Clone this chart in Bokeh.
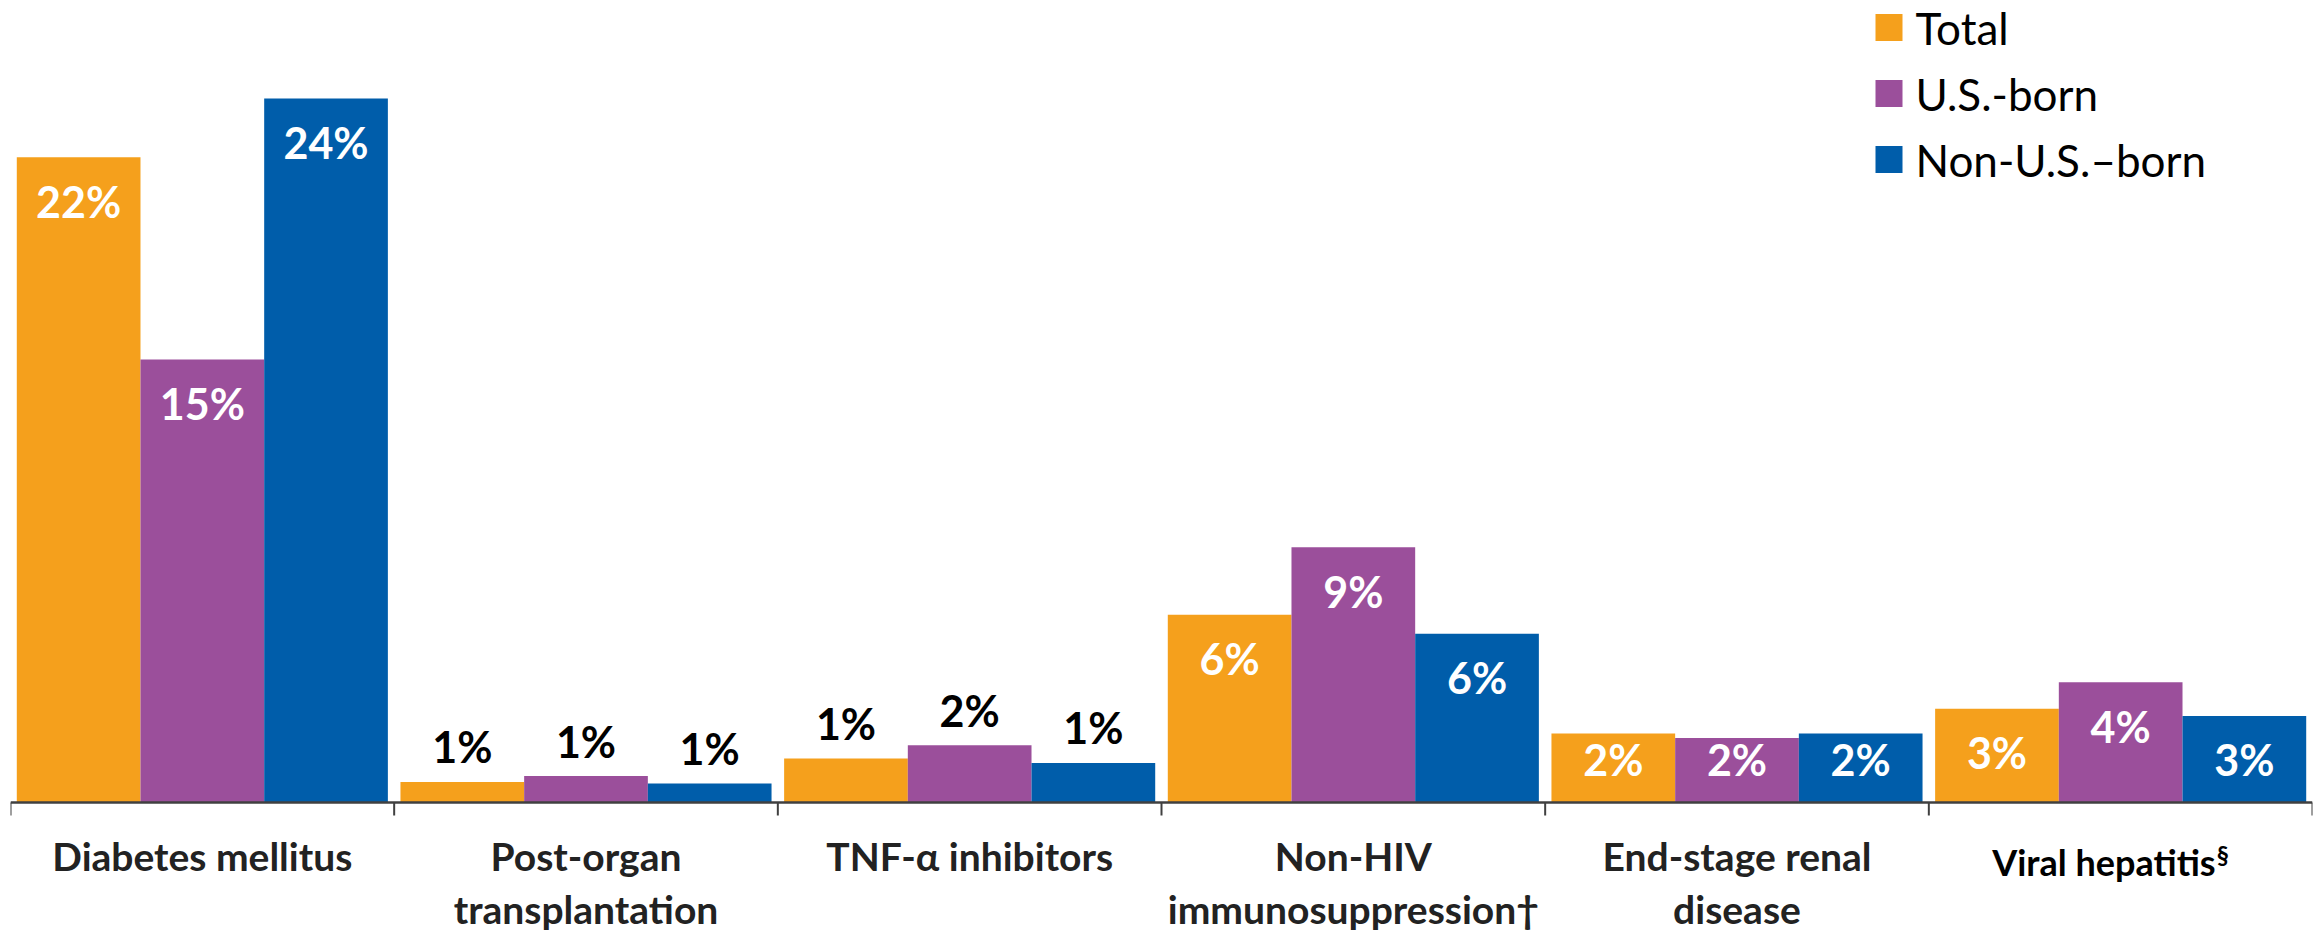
import numpy as np
from bokeh.plotting import figure
from bokeh.models import ColumnDataSource, Range1d
from bokeh.core.properties import value
from bokeh.embed import file_html
from bokeh.resources import INLINE

# ---------------- data ----------------
categories = ["Diabetes mellitus", "Post-organ\ntransplantation", "TNF-\u03b1 inhibitors",
              "Non-HIV\nimmunosuppression\u2020", "End-stage renal\ndisease", "Viral hepatitis\u00a7"]
series_names = ["Total", "U.S.-born", "Non-U.S.\u2013born"]
total = [22.0, 0.7, 1.5, 6.4, 2.35, 3.2]
us_born = [15.1, 0.9, 1.95, 8.7, 2.2, 4.1]
non_us_born = [24.0, 0.65, 1.35, 5.75, 2.35, 2.95]
total_labels = ["22%", "1%", "1%", "6%", "2%", "3%"]
us_born_labels = ["15%", "1%", "2%", "9%", "2%", "4%"]
non_us_born_labels = ["24%", "1%", "1%", "6%", "2%", "3%"]
colors = ["#F5A01C", "#9B4F9B", "#005DAA"]

series_values = [total, us_born, non_us_born]
series_labels = [total_labels, us_born_labels, non_us_born_labels]

# ---------------- layout ----------------
W, H = 2323, 930
FRAME_L, FRAME_R, BASE = 10, 2312, 802
PX_PER_PCT = 29.33
BW = 0.3224
FONT = "Lato"
N = len(categories)

p = figure(width=W, height=H, output_backend="svg", toolbar_location=None,
           x_range=Range1d(0, N),
           y_range=Range1d(-(H - BASE) / PX_PER_PCT, BASE / PX_PER_PCT),
           x_axis_location=None, y_axis_location=None,
           min_border_left=FRAME_L, min_border_right=W - FRAME_R,
           min_border_top=0, min_border_bottom=0)
p.outline_line_color = None
p.xgrid.grid_line_color = None
p.ygrid.grid_line_color = None


def sx(px):
    return (px - FRAME_L) / (FRAME_R - FRAME_L) * N


def sy(py):
    return (BASE - py) / PX_PER_PCT


centers = np.arange(N) + 0.5
offsets = [-BW, 0.0, BW]

for k in range(3):
    vals = np.array(series_values[k])
    xs = centers + offsets[k]
    src = ColumnDataSource(dict(x=xs, top=vals))
    p.vbar(x="x", top="top", bottom=0, width=BW, source=src,
           fill_color=colors[k], line_color=None)

    inside = vals >= 2.1
    labs = np.array(series_labels[k])
    iy = np.maximum(vals - 44 / PX_PER_PCT, 43 / PX_PER_PCT)
    src_in = ColumnDataSource(dict(x=xs[inside], y=iy[inside], t=labs[inside]))
    p.text(x="x", y="y", text="t", source=src_in, text_color="white",
           text_font=value(FONT), text_font_style="bold", text_font_size="43px",
           text_align="center", text_baseline="middle")
    out = ~inside
    src_out = ColumnDataSource(dict(x=xs[out], y=vals[out], t=labs[out]))
    p.text(x="x", y="y", text="t", source=src_out, text_color="black", y_offset=-35,
           text_font=value(FONT), text_font_style="bold", text_font_size="43px",
           text_align="center", text_baseline="middle")

# ---------------- category axis: baseline + boundary ticks ----------------
bounds = np.arange(N + 1)
p.segment(x0=[0], y0=[0], x1=[N], y1=[0], line_color="#404040", line_width=2.5)
p.segment(x0=bounds, y0=np.zeros(N + 1), x1=bounds, y1=np.full(N + 1, sy(815)),
          line_color="#404040", line_width=2)

# ---------------- category labels ----------------
reg_x, l1, l2 = [], [], []
for c, lab in zip(centers, categories):
    if lab.endswith("\u00a7"):
        main = lab[:-1]
        xe = c + sx(FRAME_L + 95)
        p.text(x=[xe], y=[sy(861)], text=[main], text_align="right", text_baseline="middle",
               text_font=value(FONT), text_font_style="bold", text_font_size="36px",
               text_color="black")
        p.text(x=[xe + sx(FRAME_L + 1)], y=[sy(854)], text=["\u00a7"], text_align="left",
               text_baseline="middle", text_font=value(FONT), text_font_style="bold",
               text_font_size="24px", text_color="black")
        continue
    parts = lab.split("\n")
    reg_x.append(c)
    l1.append(parts[0])
    l2.append(parts[1] if len(parts) > 1 else "")

cat_src = ColumnDataSource(dict(x=reg_x, y1=[sy(855)] * len(reg_x), y2=[sy(908)] * len(reg_x),
                                t1=l1, t2=l2))
for yk, tk in (("y1", "t1"), ("y2", "t2")):
    p.text(x="x", y=yk, text=tk, source=cat_src, text_align="center",
           text_baseline="middle", text_font=value(FONT), text_font_style="bold",
           text_font_size="39px", text_color="#222222")

# ---------------- legend (drawn) ----------------
leg_rows_px = [27, 93, 159]
leg_src = ColumnDataSource(dict(x=[sx(1888.5)] * 3, y=[sy(v) for v in leg_rows_px],
                                c=colors, tx=[sx(1915)] * 3, t=series_names))
p.scatter(x="x", y="y", marker="square", size=27, fill_color="c", line_color=None, source=leg_src)
p.text(x="tx", y="y", text="t", source=leg_src, text_color="black",
       text_font=value(FONT), text_font_size="44px", text_align="left", text_baseline="middle")

open("out.html", "w").write(file_html(p, INLINE))
